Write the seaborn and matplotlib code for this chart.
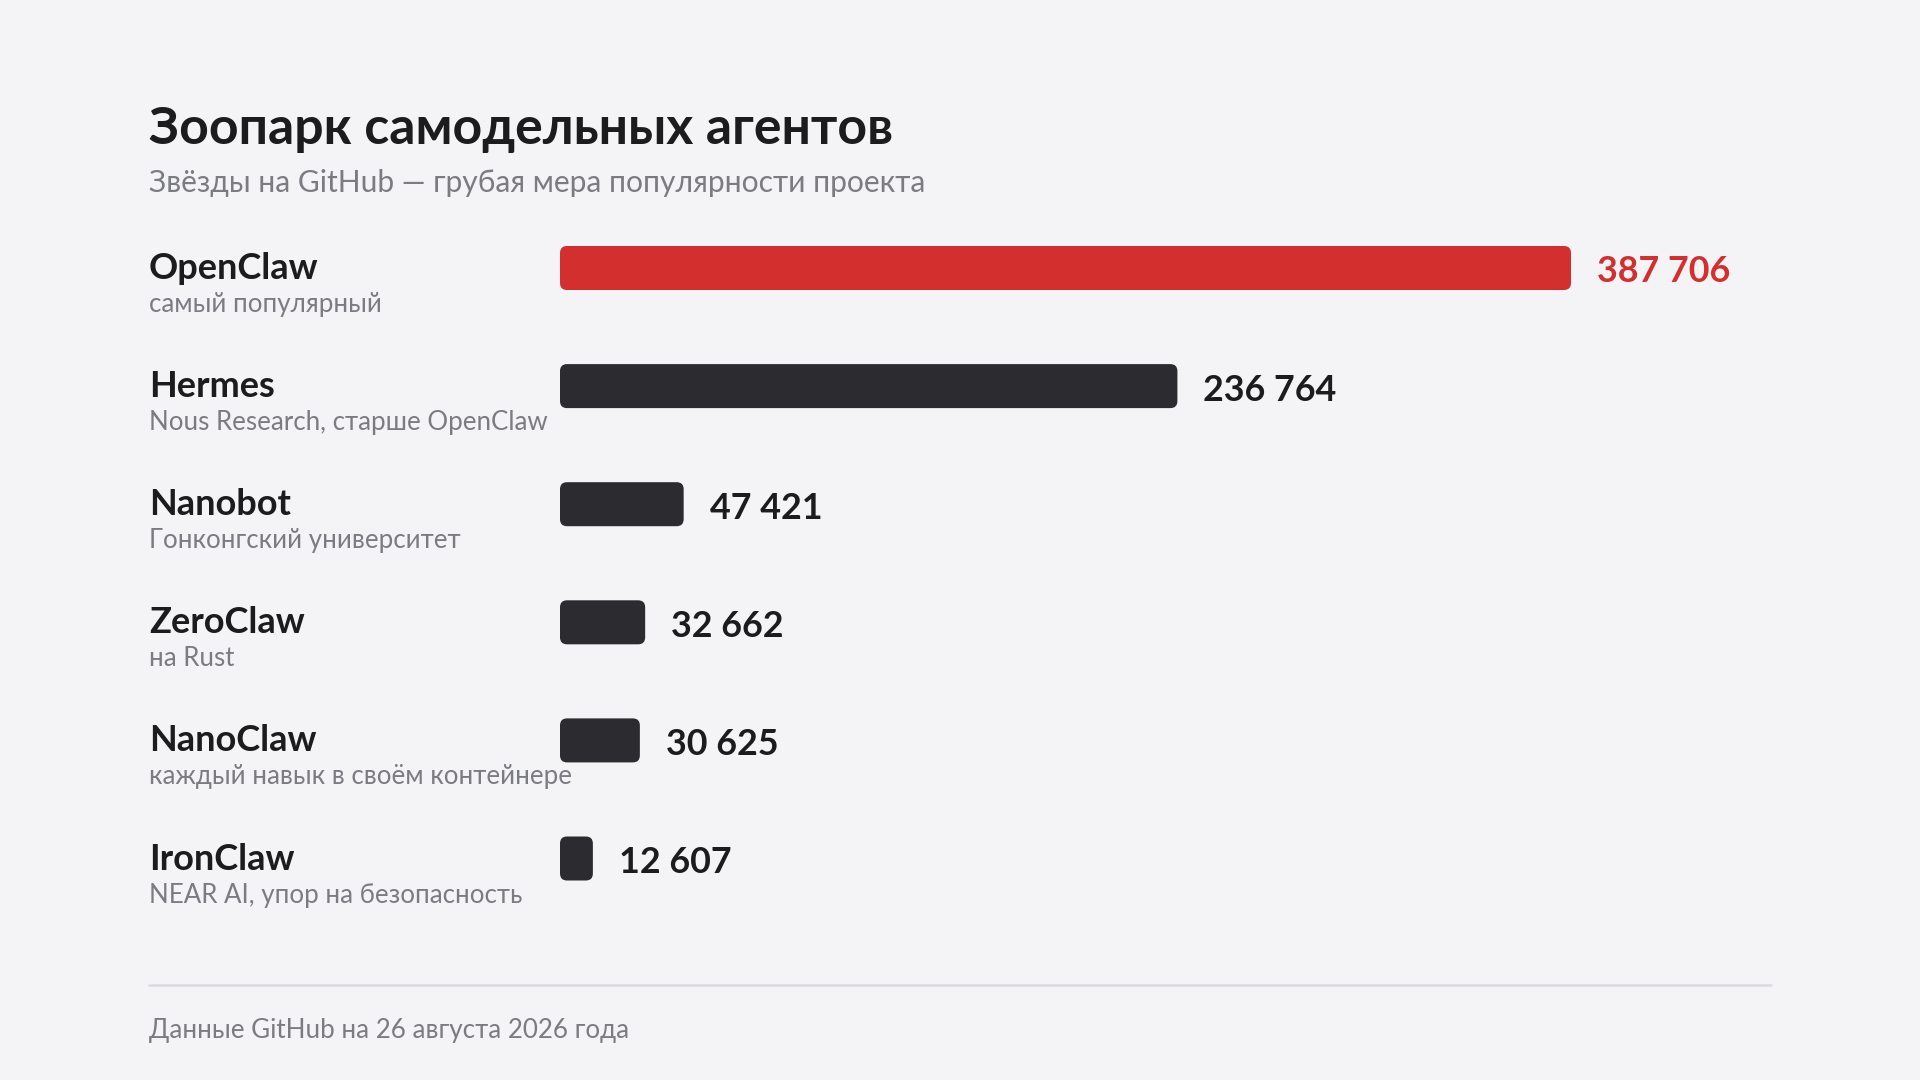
import matplotlib
matplotlib.use("Agg")
import matplotlib.pyplot as plt
from matplotlib.patches import FancyBboxPatch
from matplotlib.transforms import offset_copy
import seaborn as sns
import pandas as pd

# data
names = ["OpenClaw", "Hermes", "Nanobot", "ZeroClaw", "NanoClaw", "IronClaw"]
notes = ["самый популярный", "Nous Research, старше OpenClaw", "Гонконгский университет",
         "на Rust", "каждый навык в своём контейнере", "NEAR AI, упор на безопасность"]
stars = [387706, 236764, 47421, 32662, 30625, 12607]
title = "Зоопарк самодельных агентов"
subtitle = "Звёзды на GitHub — грубая мера популярности проекта"
footer = "Данные GitHub на 26 августа 2026 года"

BG = "#f4f4f6"
RED = "#d32f2f"
DARK = "#2b2b30"
INK = "#1c1c1e"
GREY = "#7b7b82"

W, H = 1920, 1080

sns.set_theme(style="white")
plt.rcParams["font.family"] = ["Lato", "DejaVu Sans"]

df = pd.DataFrame({"name": names, "stars": stars})
colors = {n: (RED if i == 0 else DARK) for i, n in enumerate(names)}

fig = plt.figure(figsize=(W / 100, H / 100), dpi=100, facecolor=BG)

# bars axes: x=0 at px 560, 387706 at px 1571; rows every ~118 px from 268
x0_px, xmax = 560, 500000
ax_w = 1011 * xmax / stars[0]
row0, step = 268, 118.1
top_px = row0 - step / 2
bot_px = row0 + step * 5.5
ax = fig.add_axes([x0_px / W, 1 - bot_px / H, ax_w / W, (bot_px - top_px) / H])
ax.set_facecolor("none")

sns.barplot(data=df, y="name", x="stars", hue="name", palette=colors, saturation=1,
            orient="h", width=44 / step, legend=False, ax=ax)
ax.set_xlim(0, xmax)
ax.set_ylim(5.5, -0.5)
ax.set_axis_off()

# swap plain rectangles for rounded ones
xpp = xmax / ax_w
ypp = 6 / (bot_px - top_px)
for p in list(ax.patches):
    x, y = p.get_x(), p.get_y()
    w, h = p.get_width(), p.get_height()
    fc = p.get_facecolor()
    p.remove()
    ax.add_patch(FancyBboxPatch((x, y), w, h,
                                boxstyle=f"round,pad=0,rounding_size={7 * xpp}",
                                mutation_aspect=ypp / xpp, fc=fc, ec="none", lw=0))

for i, (v, n) in enumerate(zip(stars, names)):
    tr = offset_copy(ax.transData, fig=fig, x=26 * 0.72, y=-4 * 0.72, units="points")
    ax.text(v, i, f"{v:,}".replace(",", " "), transform=tr, ha="left", va="center",
            fontsize=25.8, fontweight="bold", color=RED if i == 0 else INK)


def fx(x):
    return x / W


def fy(y):
    return 1 - y / H


for i, (n, note) in enumerate(zip(names, notes)):
    cy = row0 + step * i
    fig.text(fx(149), fy(cy + 11), n, fontsize=26, fontweight="bold", color=INK, va="baseline")
    fig.text(fx(149), fy(cy + 44), note, fontsize=18.6, color=GREY, va="baseline")

fig.text(fx(149), fy(144), title, fontsize=37.3, fontweight="bold", color=INK, va="baseline")
fig.text(fx(149), fy(192), subtitle, fontsize=21.6, color=GREY, va="baseline")

fig.add_artist(plt.Line2D([fx(149), fx(1771)], [fy(985), fy(985)], color="#dcdce0", lw=1.8))
fig.text(fx(149), fy(1038), footer, fontsize=18.7, color=GREY, va="baseline")

fig.savefig("out.png", dpi=100, facecolor=BG)
